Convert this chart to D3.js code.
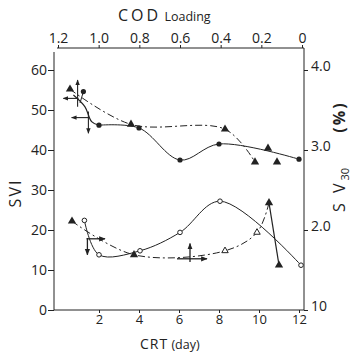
<!DOCTYPE html>
<html><head><meta charset="utf-8">
<script src="https://cdn.jsdelivr.net/npm/d3@7/dist/d3.min.js"></script>
<style>html,body{margin:0;padding:0;background:#fff}svg{display:block}text{font-family:"Open Sans","DejaVu Sans",sans-serif;fill:#222}</style>
</head><body><svg id="c" width="352" height="358"></svg>
<script>
// ---- data ----
const crtTicks = [2, 4, 6, 8, 10, 12];
const sviTicks = [0, 10, 20, 30, 40, 50, 60];
const sv30Ticks = [10, 20, 30, 40];
const sv30TickLabels = ["10", "2.0", "3.0", "4.0"];
const codTicks = [1.2, 1.0, 0.8, 0.6, 0.4, 0.2, 0];
const codTickLabels = ["1.2", "1.0", "0.8", "0.6", "0.4", "0.2", "0"];

// upper group (SVI, left axis)
const upCircCRT = [1.22, 2.0, 4.0, 6.05, 8.0, 12.0];
const upCircSVI = [54.6, 46.2, 45.5, 37.5, 41.5, 37.7];
const upTriCRT = [0.55, 3.6, 8.3, 9.8, 10.45, 10.9];
const upTriSVI = [55.2, 46.4, 45.2, 37.0, 40.4, 37.0];
const upTriLineCount = 4;

// lower group (SV30, right axis)
const loCircCRT = [1.27, 2.0, 4.05, 6.05, 8.05, 12.1];
const loCircSV30 = [21.2, 16.9, 17.4, 19.7, 23.6, 15.6];
const loTriCRT = [0.65, 3.75, 8.3, 9.9, 10.5, 11.0];
const loTriSV30 = [21.1, 16.9, 17.4, 19.7, 23.4, 15.6];
const loTriFilled = [true, true, false, false, true, true];

// hand-drawn arrows (CRT, SVI) and (CRT, SV30)
const upArrows = [[0.93, 50.8, 0.93, 57.5], [0.97, 52.9, 0.22, 52.9], [1.47, 48.1, 0.63, 48.1], [1.47, 49.6, 1.47, 44.2]];
const upStem = [[0.72, 53.75], [1.3, 50.8], [1.63, 47.1], [2.0, 46.2]];
const upBranch = [[1.22, 54.6], [1.05, 51.75]];
const loArrows = [[1.38, 18.9, 2.3, 18.9], [1.42, 19.0, 1.42, 16.9], [6.55, 16.0, 6.55, 18.3], [5.9, 16.4, 7.4, 16.4]];

// ---- drawing ----
const svg = d3.select("#c");
const ink = "#222";
const x = d3.scaleLinear().domain([-0.25, 12.25]).range([54, 304]);
const yL = d3.scaleLinear().domain([0, 60]).range([310, 70]);
const yR = d3.scaleLinear().domain([10, 40]).range([310, 70]);
const xTop = d3.scaleLinear().domain([1.2, 0]).range([58, 302]);

svg.append("defs").append("marker").attr("id", "ah").attr("viewBox", "0 0 10 10")
  .attr("refX", 9).attr("refY", 5).attr("markerWidth", 5).attr("markerHeight", 5).attr("orient", "auto")
  .append("path").attr("d", "M0,1 L10,5 L0,9 Z").attr("fill", ink);

function styleAxis(g) {
  g.select(".domain").remove();
  g.selectAll("line").attr("stroke", ink).attr("stroke-width", 1);
  g.selectAll("text").attr("font-size", 13).attr("fill", ink).attr("font-family", '"Open Sans","DejaVu Sans",sans-serif');
}
// axis lines
svg.append("line").attr("x1", 54).attr("x2", 54).attr("y1", 52).attr("y2", 310).attr("stroke", ink);
svg.append("line").attr("x1", 54).attr("x2", 304).attr("y1", 310).attr("y2", 310).attr("stroke", ink);
svg.append("line").attr("x1", 304).attr("x2", 304).attr("y1", 48).attr("y2", 310).attr("stroke", ink);
svg.append("line").attr("x1", 57).attr("x2", 304).attr("y1", 48).attr("y2", 48).attr("stroke", ink);

svg.append("g").attr("transform", "translate(54,0)")
  .call(d3.axisLeft(yL).tickValues(sviTicks).tickSize(6).tickPadding(1).tickFormat(d3.format("d")))
  .call(styleAxis).selectAll("text").attr("font-size", 14);
svg.append("g").attr("transform", "translate(0,310)")
  .call(d3.axisBottom(x).tickValues(crtTicks).tickSize(3).tickPadding(2).tickFormat(d3.format("d")))
  .call(styleAxis);
svg.append("g").attr("transform", "translate(304,0)")
  .call(d3.axisRight(yR).tickValues(sv30Ticks).tickSize(4).tickPadding(3).tickFormat((d, i) => sv30TickLabels[i]))
  .call(styleAxis).selectAll("text").attr("font-size", 14).attr("dy", "0.05em");
svg.append("g").attr("transform", "translate(0,48)")
  .call(d3.axisTop(xTop).tickValues(codTicks).tickSize(3).tickPadding(2).tickFormat((d, i) => codTickLabels[i]))
  .call(styleAxis).selectAll("text").attr("font-size", 14);

// titles
const t1 = svg.append("text").attr("x", 118).attr("y", 21).attr("font-size", 16);
t1.append("tspan").text("COD").attr("letter-spacing", 3);
t1.append("tspan").text(" Loading").attr("font-size", 12.5);
const t2 = svg.append("text").attr("x", 140).attr("y", 349).attr("font-size", 14);
t2.append("tspan").text("CRT").attr("letter-spacing", 1);
t2.append("tspan").text(" (day)").attr("font-size", 12.5);
svg.append("text").attr("transform", "translate(21,193) rotate(-90)").attr("text-anchor", "middle")
  .attr("font-size", 16).attr("letter-spacing", 2).text("SVI");
const t3 = svg.append("text").attr("transform", "translate(345,190) rotate(-90)").attr("text-anchor", "middle").attr("font-size", 16);
t3.append("tspan").text("S V").attr("letter-spacing", 3);
t3.append("tspan").text("30").attr("font-size", 11).attr("dy", 4);
svg.append("text").attr("transform", "translate(345,117) rotate(-90)").attr("text-anchor", "middle")
  .attr("font-size", 16).attr("font-weight", "bold").attr("letter-spacing", 2).text("(%)");

// helpers
const zip = (a, b) => a.map((v, i) => ({ crt: v, v: b[i], i }));
const upC = zip(upCircCRT, upCircSVI), upT = zip(upTriCRT, upTriSVI);
const loC = zip(loCircCRT, loCircSV30), loT = zip(loTriCRT, loTriSV30);
const lineL = d3.line().x(d => x(d.crt)).y(d => yL(d.v)).curve(d3.curveCatmullRom.alpha(0.5));
const lineR = d3.line().x(d => x(d.crt)).y(d => yR(d.v)).curve(d3.curveCatmullRom.alpha(0.5));
const dashDot = "7,3,2,3";

// lines
svg.append("path").attr("d", lineL(upC.slice(1))).attr("fill", "none").attr("stroke", ink).attr("stroke-width", 1);
svg.append("path").attr("d", lineL(upStem.map(p => ({ crt: p[0], v: p[1] })))).attr("fill", "none").attr("stroke", ink).attr("stroke-width", 1.2);
svg.append("path").attr("d", d3.line().x(p => x(p[0])).y(p => yL(p[1]))(upBranch)).attr("fill", "none").attr("stroke", ink);
svg.append("path").attr("d", lineL(upT.slice(0, upTriLineCount))).attr("fill", "none").attr("stroke", ink).attr("stroke-width", 1).attr("stroke-dasharray", dashDot);
svg.append("path").attr("d", lineR(loC)).attr("fill", "none").attr("stroke", ink).attr("stroke-width", 1);
svg.append("path").attr("d", lineR(loT.slice(0, 5))).attr("fill", "none").attr("stroke", ink).attr("stroke-width", 1).attr("stroke-dasharray", dashDot);
svg.append("path").attr("d", d3.line().x(d => x(d.crt)).y(d => yR(d.v))(loT.slice(4))).attr("fill", "none").attr("stroke", ink).attr("stroke-width", 1.2);

// arrows
svg.selectAll(".ua").data(upArrows).enter().append("line")
  .attr("x1", d => x(d[0])).attr("y1", d => yL(d[1])).attr("x2", d => x(d[2])).attr("y2", d => yL(d[3]))
  .attr("stroke", ink).attr("stroke-width", 1.1).attr("marker-end", "url(#ah)");
svg.selectAll(".la").data(loArrows).enter().append("line")
  .attr("x1", d => x(d[0])).attr("y1", d => yR(d[1])).attr("x2", d => x(d[2])).attr("y2", d => yR(d[3]))
  .attr("stroke", ink).attr("stroke-width", 1.3).attr("marker-end", "url(#ah)");

// markers
const tri = d3.symbol().type(d3.symbolTriangle).size(30);
const triS = d3.symbol().type(d3.symbolTriangle).size(18);
svg.selectAll(".uc").data(upC).enter().append("circle").attr("cx", d => x(d.crt)).attr("cy", d => yL(d.v)).attr("r", 2.6).attr("fill", ink);
svg.selectAll(".ut").data(upT).enter().append("path").attr("d", tri).attr("transform", d => `translate(${x(d.crt)},${yL(d.v)})`).attr("fill", ink);
svg.selectAll(".lc").data(loC).enter().append("circle").attr("cx", d => x(d.crt)).attr("cy", d => yR(d.v)).attr("r", 2.3).attr("fill", "#fff").attr("stroke", ink).attr("stroke-width", 1);
svg.selectAll(".lt").data(loT).enter().append("path").attr("d", (d, i) => loTriFilled[i] ? tri() : triS())
  .attr("transform", d => `translate(${x(d.crt)},${yR(d.v)})`)
  .attr("fill", (d, i) => loTriFilled[i] ? ink : "#fff").attr("stroke", ink).attr("stroke-width", (d, i) => loTriFilled[i] ? 0 : 1);
</script></body></html>
